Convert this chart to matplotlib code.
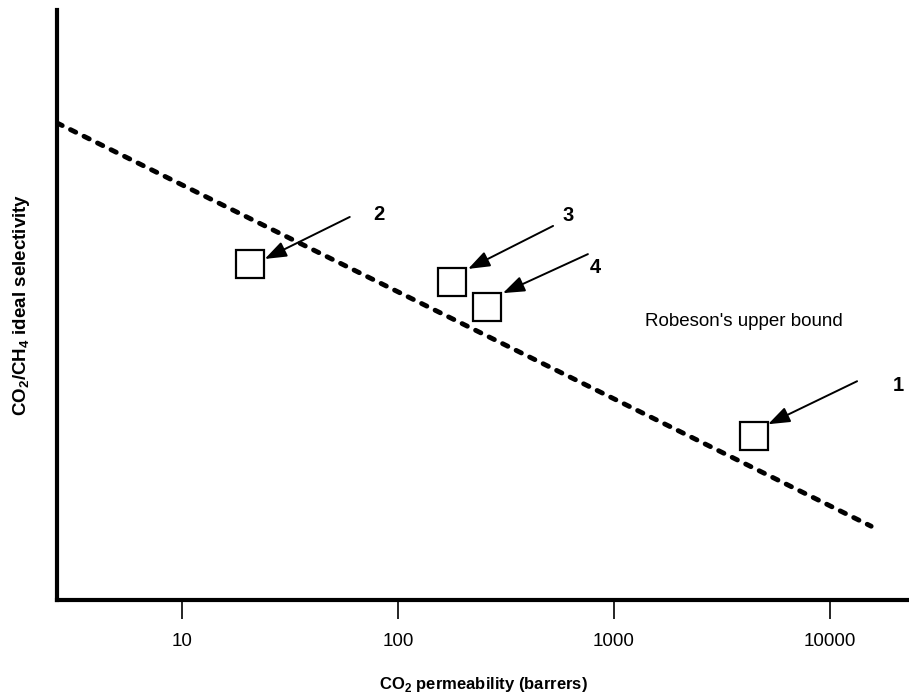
import matplotlib
matplotlib.use('Agg')
import matplotlib.pyplot as plt
from matplotlib.transforms import ScaledTranslation

plt.rcParams['font.family'] = ['Liberation Sans', 'DejaVu Sans']
plt.rcParams['mathtext.fontset'] = 'custom'
plt.rcParams['mathtext.rm'] = 'Liberation Sans'
plt.rcParams['mathtext.bf'] = 'Liberation Sans:bold'

# Robeson's upper bound (end points of the dashed line)
bound_perm = [2.64, 15500]
bound_sel = [153, 7.5]

# membranes
labels = ['1', '2', '3', '4']
perm = [4450, 20.6, 178, 258]
sel = [14.7, 53.3, 46.6, 38.6]

xticks = [10, 100, 1000, 10000]

fig = plt.figure(figsize=(9.09, 6.99), dpi=100)
ax = fig.add_axes([57 / 909, 1 - 600 / 699, 1 - 57 / 909, 590 / 699])
ax.set_xscale('log')
ax.set_yscale('log')
ax.set_xlim(2.64, 23200)
ax.set_ylim(4.32, 356)

ax.plot(bound_perm, bound_sel, color='black', lw=3.5, linestyle=(0, (1.2, 1.9)),
        solid_capstyle='round', dash_capstyle='round')
ax.plot(perm, sel, linestyle='none', marker='s', markersize=19.5,
        markerfacecolor='white', markeredgecolor='black', markeredgewidth=1.6)

# arrow head / tail / label offsets in pixels from each square centre
head_off = {'1': (14, 12), '2': (15, 5), '3': (16, 13), '4': (16, 14)}
tail_off = {'1': (103, 55), '2': (100, 47), '3': (101, 56), '4': (101, 53)}
text_off = {'1': (144, 51), '2': (129, 49), '3': (116, 66), '4': (108, 40)}

for lab, p, s in zip(labels, perm, sel):
    hx, hy = head_off[lab]
    tx, ty = tail_off[lab]
    head_tr = ax.transData + ScaledTranslation(hx / 100, hy / 100, fig.dpi_scale_trans)
    ax.annotate('', xy=(p, s), xycoords=head_tr,
                xytext=(tx - hx, ty - hy), textcoords='offset pixels',
                arrowprops=dict(arrowstyle='-|>,head_length=0.6,head_width=0.22',
                                color='black', lw=1.4,
                                mutation_scale=22, shrinkA=0, shrinkB=0))
    lx, ly = text_off[lab]
    ax.annotate(lab, xy=(p, s), xytext=(lx, ly), textcoords='offset pixels',
                fontsize=14.5, fontweight='bold', ha='center', va='center')

ax.text(645 / 909, 1 - 322 / 699, "Robeson's upper bound", transform=fig.transFigure,
        fontsize=13.5, ha='left', va='center')

ax.spines['top'].set_visible(False)
ax.spines['right'].set_visible(False)
ax.spines['left'].set_linewidth(3)
ax.spines['bottom'].set_linewidth(3)

ax.set_xticks(xticks)
ax.set_xticklabels([str(t) for t in xticks])
ax.xaxis.set_minor_locator(matplotlib.ticker.NullLocator())
ax.yaxis.set_minor_locator(matplotlib.ticker.NullLocator())
ax.set_yticks([])
ax.tick_params(axis='x', direction='out', length=14, width=1.2, labelsize=13.5, pad=10)

ax.set_xlabel(r'CO$_\mathbf{2}$ permeability (barrers)', fontsize=12, fontweight='bold', labelpad=18)
ax.set_ylabel(r'CO$_\mathbf{2}$/CH$_\mathbf{4}$ ideal selectivity', fontsize=13.5, fontweight='bold', labelpad=18)

fig.savefig('out.png', dpi=100)
